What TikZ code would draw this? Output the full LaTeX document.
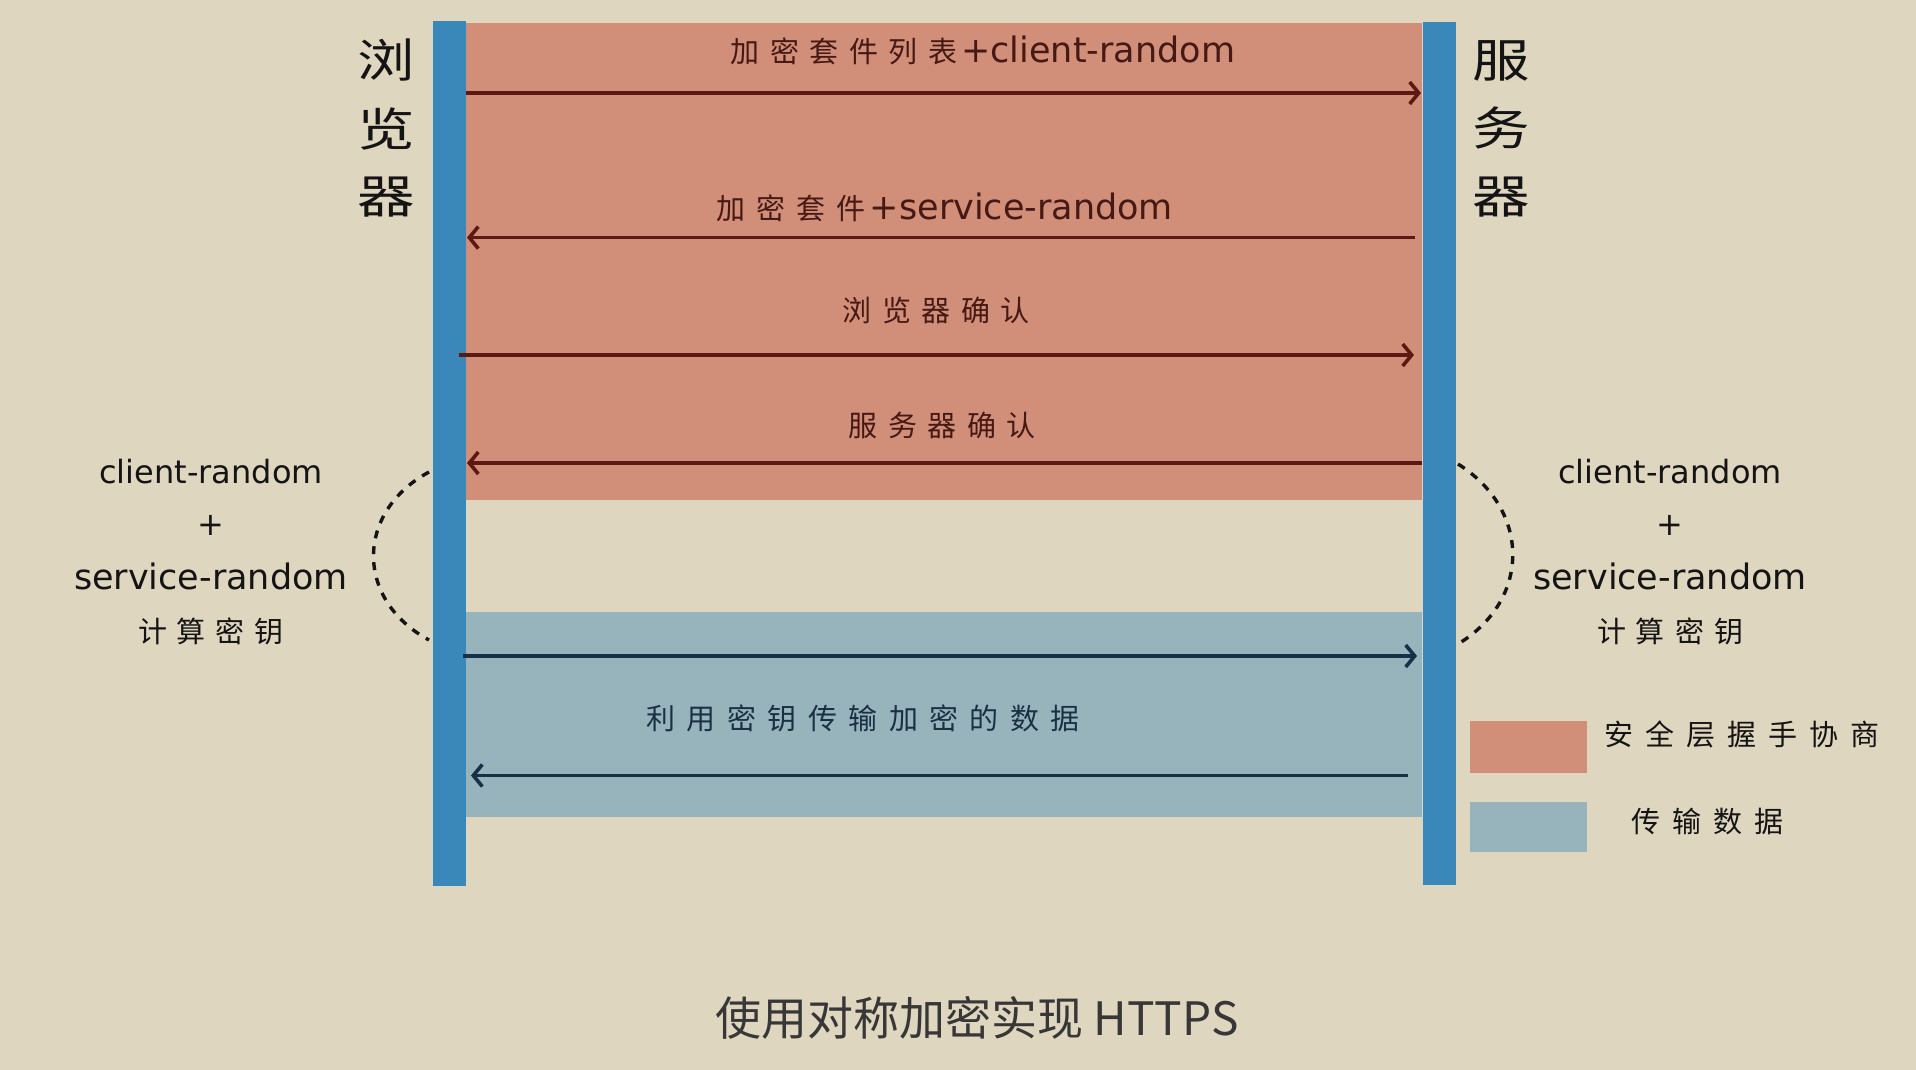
\documentclass[tikz,border=0pt]{standalone}
\usepackage{fontspec}
\setmainfont{DejaVu Sans}
\newfontfamily\cjk{Noto Sans CJK SC}
\usetikzlibrary{arrows.meta}
\definecolor{bg}{RGB}{222,214,190}
\definecolor{redzone}{RGB}{209,142,120}
\definecolor{bluezone}{RGB}{151,180,189}
\definecolor{barblue}{RGB}{58,135,186}
\definecolor{arrred}{RGB}{92,24,18}
\definecolor{arrblue}{RGB}{22,48,72}
\definecolor{txtred}{RGB}{70,25,20}
\definecolor{txtblue}{RGB}{28,48,68}
\definecolor{txtblack}{RGB}{20,20,20}
\definecolor{captext}{RGB}{55,55,55}
\newlength\cjkgap
\def\cjkspaced#1#2{\setlength\cjkgap{#1}\cjkspacedfirst#2\relax}
\def\cjkspacedfirst#1{#1\cjkspacedloop}
\def\cjkspacedloop#1{\ifx#1\relax\else\hspace{\cjkgap}#1\expandafter\cjkspacedloop\fi}
\newcommand\fsz[1]{\fontsize{#1}{#1}\selectfont}
\tikzset{
  msg/.style={line width=3.6pt, -{Straight Barb[length=9pt,width=22pt]}},
  redmsg/.style={msg, draw=arrred},
  bluemsg/.style={msg, draw=arrblue},
  lbl/.style={inner sep=0pt, anchor=center},
  bar/.style={fill=barblue, inner sep=0pt, minimum width=33pt, minimum height=865pt, anchor=north west},
  zone/.style={inner sep=0pt, anchor=north west, minimum width=956pt},
  legendbox/.style={inner sep=0pt, anchor=north west, minimum width=117pt},
  dotcurve/.style={line width=3.4pt, dash pattern=on 8pt off 8pt, draw=txtblack},
  vert/.style={inner sep=0pt, anchor=center, text=txtblack, font=\cjk\fsz{46}, xscale=1.25},
}
\begin{document}
\begin{tikzpicture}[x=1pt,y=-1pt]
\useasboundingbox (0,0) rectangle (1916,1070);
\fill[bg] (0,0) rectangle (1916,1070);
% zones
\node[zone, fill=redzone, minimum height=477pt] (redz) at (466,22.4) {};
\node[zone, fill=bluezone, minimum height=205pt] (bluez) at (466,611.6) {};
% bars
\node[bar] (lbar) at (433,21) {};
\node[bar, minimum height=863pt] (rbar) at (1422.5,21.7) {};
% arrow end points
\coordinate (a1s) at (466,93);    \coordinate (a1e) at (1421,93);
\coordinate (a2s) at (1415,237.6);\coordinate (a2e) at (467,237.6);
\coordinate (a3s) at (459,355);   \coordinate (a3e) at (1414,355);
\coordinate (a4s) at (1422,463);  \coordinate (a4e) at (467,463);
\coordinate (a5s) at (463,656);   \coordinate (a5e) at (1417,656);
\coordinate (a6s) at (1408,775.5);\coordinate (a6e) at (471,775.5);
\draw[redmsg] (a1s) -- (a1e);
\draw[redmsg] (a2s) -- (a2e);
\draw[redmsg] (a3s) -- (a3e);
\draw[redmsg] (a4s) -- (a4e);
\draw[bluemsg] (a5s) -- (a5e);
\draw[bluemsg] (a6s) -- (a6e);
% message labels
\node[lbl, text=txtred] (l1) at (983,50) {\cjk\fsz{29}\cjkspaced{10.5pt}{加密套件列表}\hspace{4pt}\normalfont\fsz{35}+client-random};
\node[lbl, text=txtred] (l2) at (945,207) {\cjk\fsz{29}\cjkspaced{11pt}{加密套件}\hspace{4pt}\normalfont\fsz{35}+service-random};
\node[lbl, text=txtred] (l3) at (936,310) {\cjk\fsz{29}\cjkspaced{10.5pt}{浏览器确认}};
\node[lbl, text=txtred] (l4) at (942,425) {\cjk\fsz{29}\cjkspaced{10.5pt}{服务器确认}};
\node[lbl, text=txtblue] (l6) at (863,718) {\cjk\fsz{29}\cjkspaced{11.5pt}{利用密钥传输加密的数据}};
% vertical names
\node[vert] (b1) at (386,60) {浏};
\node[vert] (b2) at (386,129) {览};
\node[vert] (b3) at (386,197) {器};
\node[vert] (s1) at (1501,61) {服};
\node[vert] (s2) at (1501,128) {务};
\node[vert] (s3) at (1501,197) {器};
% side blocks
\node[lbl, text=txtblack, font=\fsz{32}] (lc) at (211,472) {client-random};
\node[lbl, text=txtblack, font=\fsz{32}] (lp) at (211,525) {+};
\node[lbl, text=txtblack, font=\fsz{35}] (ls) at (211,576) {service-random};
\node[lbl, text=txtblack] (lk) at (211,631) {\cjk\fsz{29}\cjkspaced{10pt}{计算密钥}};
\node[lbl, text=txtblack, font=\fsz{32}] (rc) at (1670,472) {client-random};
\node[lbl, text=txtblack, font=\fsz{32}] (rp) at (1670,525) {+};
\node[lbl, text=txtblack, font=\fsz{35}] (rs) at (1670,576) {service-random};
\node[lbl, text=txtblack] (rk) at (1670,631) {\cjk\fsz{29}\cjkspaced{10pt}{计算密钥}};
% dashed curves
\coordinate (lc1) at (429,472); \coordinate (lc2) at (429,640);
\coordinate (rc1) at (1458,464); \coordinate (rc2) at (1458,644);
\draw[dotcurve] (lc1) .. controls (355,512) and (355,600) .. (lc2);
\draw[dotcurve] (rc1) .. controls (1531,510) and (1531,600) .. (rc2);
% legend
\node[legendbox, fill=redzone, minimum height=52.5pt] (leg1) at (1470,720.5) {};
\node[legendbox, fill=bluezone, minimum height=50pt] (leg2) at (1470,802) {};
\node[lbl, text=txtblack] (leg1t) at (1742,734) {\cjk\fsz{29}\cjkspaced{12pt}{安全层握手协商}};
\node[lbl, text=txtblack] (leg2t) at (1707,821) {\cjk\fsz{29}\cjkspaced{12pt}{传输数据}};
% caption
\node[lbl, text=captext] (cap) at (977,1018) {\cjk\fsz{46}使用对称加密实现 HTTPS};
\end{tikzpicture}
\end{document}
